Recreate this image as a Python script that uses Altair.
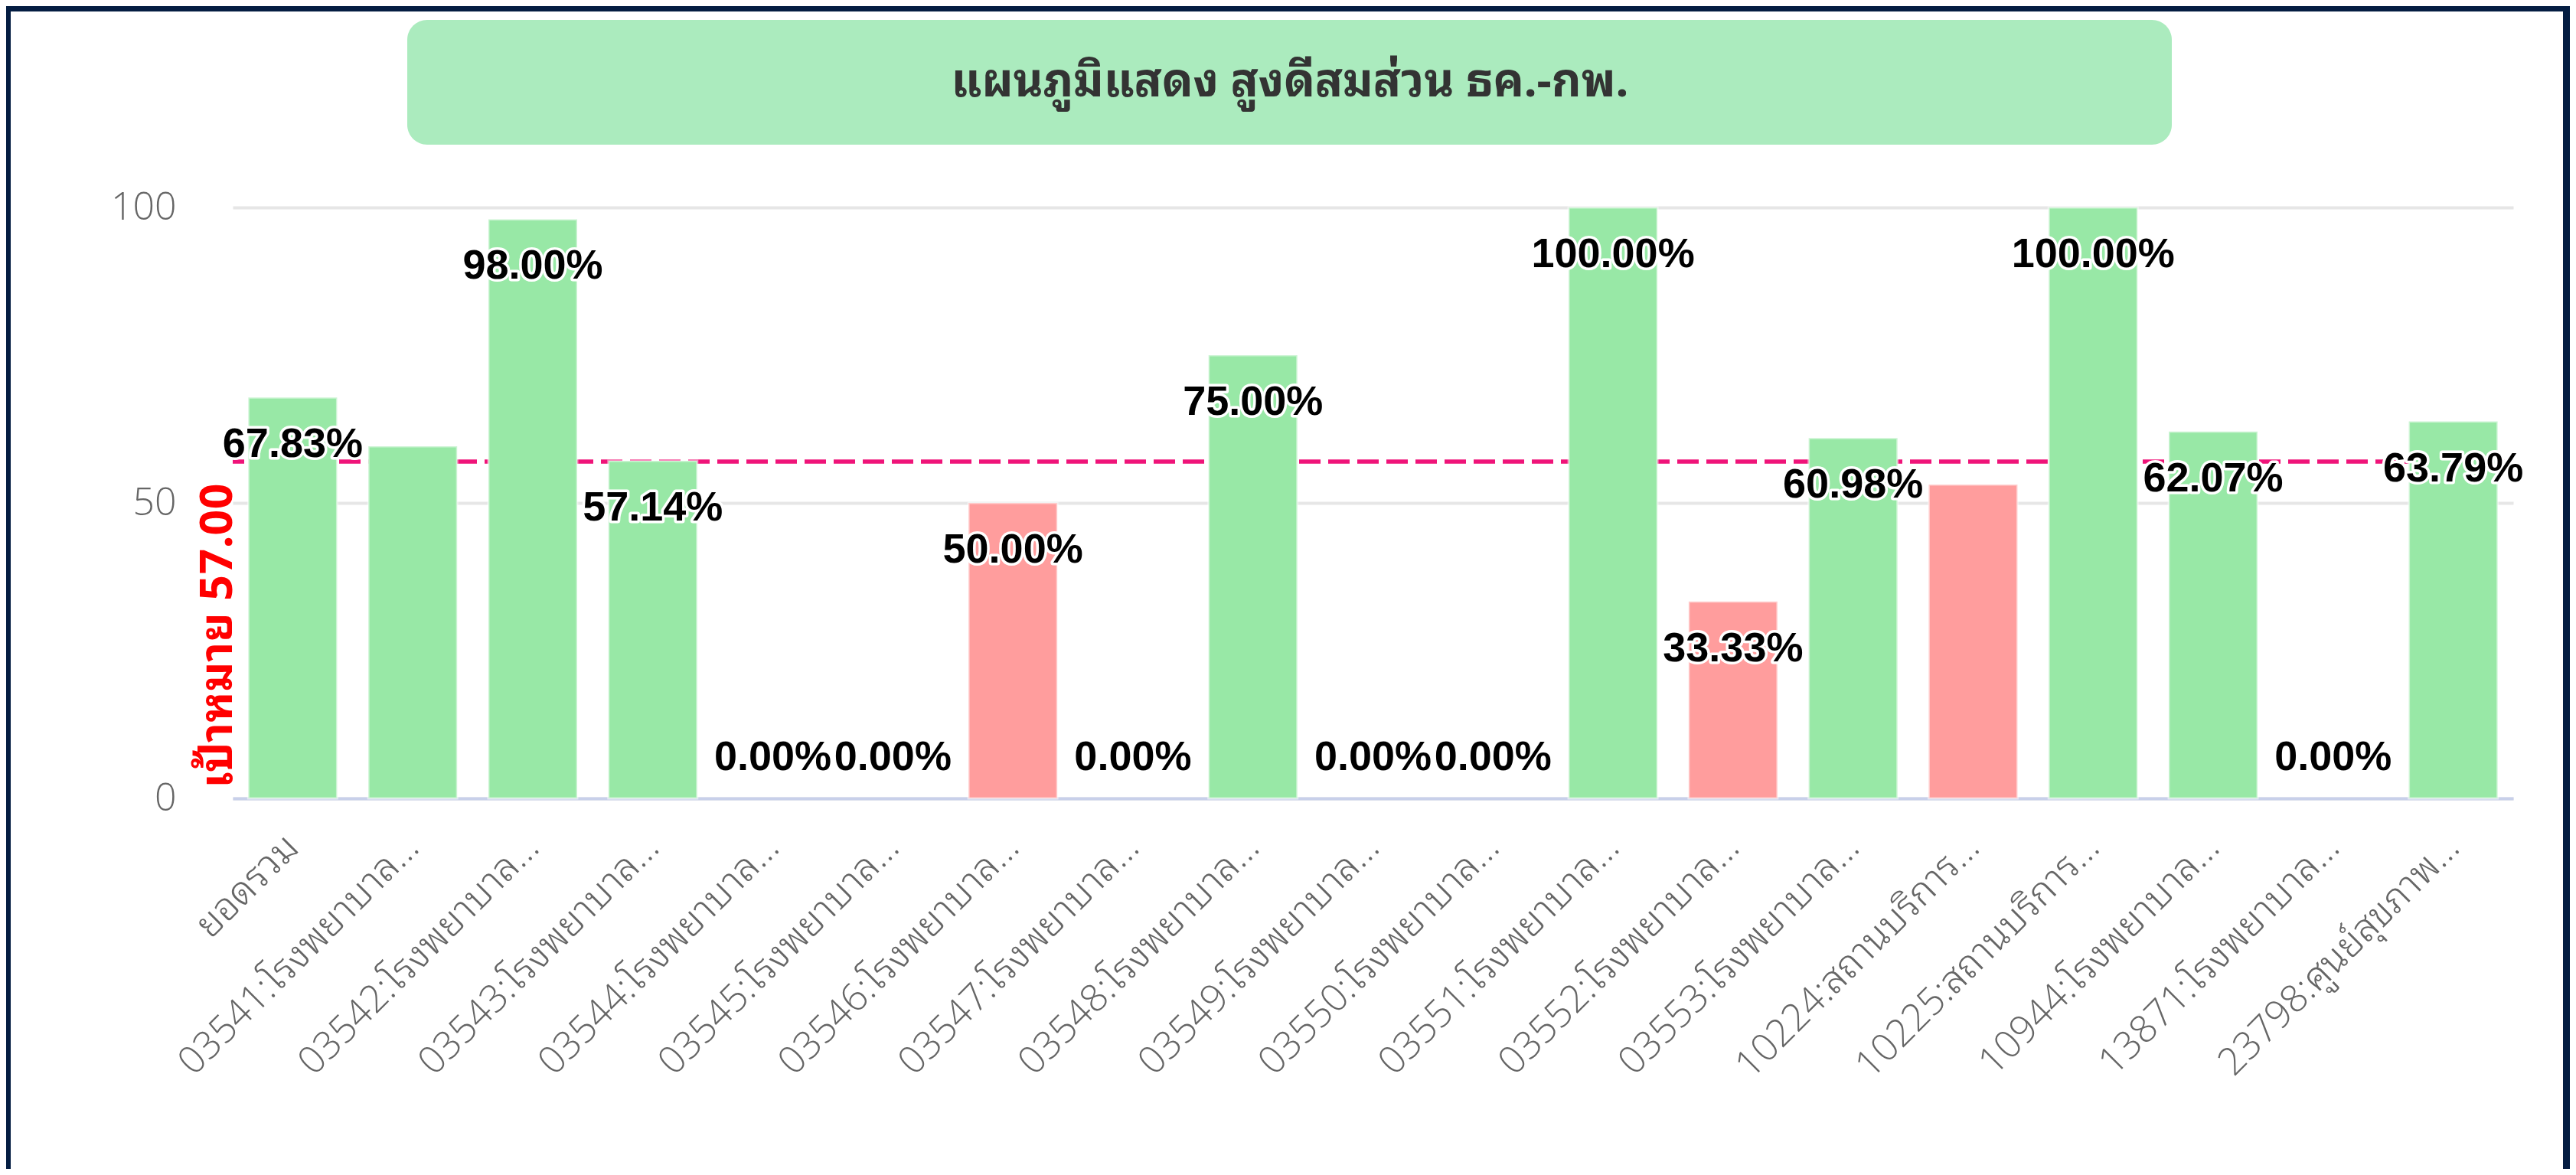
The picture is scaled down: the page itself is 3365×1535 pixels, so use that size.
import altair as alt
import pandas as pd

# ---------------- data ----------------
TITLE = "แผนภูมิแสดง สูงดีสมส่วน ธค.-กพ."
TARGET = 57.0
TARGET_LABEL = "เป้าหมาย 57.00"
CATEGORIES = [
    "ยอดรวม",
    "03541:โรงพยาบาล...",
    "03542:โรงพยาบาล...",
    "03543:โรงพยาบาล...",
    "03544:โรงพยาบาล...",
    "03545:โรงพยาบาล...",
    "03546:โรงพยาบาล...",
    "03547:โรงพยาบาล...",
    "03548:โรงพยาบาล...",
    "03549:โรงพยาบาล...",
    "03550:โรงพยาบาล...",
    "03551:โรงพยาบาล...",
    "03552:โรงพยาบาล...",
    "03553:โรงพยาบาล...",
    "10224:สถานบริการ...",
    "10225:สถานบริการ...",
    "10944:โรงพยาบาล...",
    "13871:โรงพยาบาล...",
    "23798:ศูนย์สุขภาพ...",
]
VALUES = [67.83, 59.6, 98.00, 57.14, 0.0, 0.0, 50.00, 0.0, 75.00, 0.0,
          0.0, 100.00, 33.33, 60.98, 53.1, 100.00, 62.07, 0.0, 63.79]
SHOW_LABEL = [1, 0, 1, 1, 1, 1, 1, 1, 1, 1, 1, 1, 1, 1, 0, 1, 1, 1, 1]
Y_TICKS = [0, 50, 100]

# ---------------- style ----------------
GREEN = "#98e8a6"
RED = "#ff9d9d"
PINK = "#ef1479"
NAVY = "#041d42"
BOX = "#abebbe"
THAI = "'Noto Sans Thai Looped', 'Noto Sans Thai', 'Noto Sans', sans-serif"
LIGHT = "'Open Sans', 'Noto Sans Thai Looped', 'Noto Sans Thai', sans-serif"
LABEL_FONT = "'Liberation Sans', Arial, sans-serif"

W, H = 2979, 772
PAD = {"left": 296, "top": 263, "right": 74, "bottom": 484}

df = pd.DataFrame({"cat": CATEGORIES, "value": VALUES, "show": SHOW_LABEL})
one = pd.DataFrame({"t": [TITLE]})
tgt = pd.DataFrame({"target": [TARGET]})

x_enc = alt.X(
    "cat:N",
    sort=CATEGORIES,
    scale=alt.Scale(paddingInner=0.26, paddingOuter=0.13),
    axis=alt.Axis(
        title=None, labelAngle=-45, labelAlign="right", labelBaseline="middle",
        labelPadding=56, ticks=False, tickSize=0, grid=False,
        domainColor="#c8d0ea", domainWidth=4, labelFontSize=50,
        labelColor="#666666", labelFont=LIGHT, labelFontWeight=300, labelLimit=0,
    ),
)
y_enc = alt.Y(
    "value:Q",
    scale=alt.Scale(domain=[0, 100], nice=False),
    axis=alt.Axis(
        values=Y_TICKS, grid=True, gridColor="#e6e6e6", gridWidth=4,
        domain=False, ticks=False, tickSize=0, labelPadding=74,
        labelFontSize=50, labelColor="#666666", labelFont=LIGHT, labelFontWeight=300,
        title=TARGET_LABEL, titleColor="#ff0000", titleFontSize=59,
        titleFontWeight="bold", titleFont=THAI, titleAngle=270,
        titleX=-2, titleY=758, titleAlign="left", titleBaseline="alphabetic",
    ),
)

base = alt.Chart(df)

frame_left = alt.Chart(one).mark_rect(color=NAVY).encode(
    x=alt.value(-296), x2=alt.value(-290), y=alt.value(-263), y2=alt.value(1256))
frame_top = alt.Chart(one).mark_rect(color=NAVY).encode(
    x=alt.value(-296), x2=alt.value(3053), y=alt.value(-263), y2=alt.value(-256))
frame_right = alt.Chart(one).mark_rect(color=NAVY).encode(
    x=alt.value(3044), x2=alt.value(3053), y=alt.value(-263), y2=alt.value(1256))

title_box = alt.Chart(one).mark_rect(color=BOX, cornerRadius=26).encode(
    x=alt.value(228), x2=alt.value(2533), y=alt.value(-245), y2=alt.value(-82))
title_text = alt.Chart(one).mark_text(
    font=THAI, fontSize=60, fontWeight="bold", color="#333333",
    align="center", baseline="middle",
).encode(x=alt.value(1381), y=alt.value(-163), text="t:N")

rule = alt.Chart(tgt).mark_rule(
    color=PINK, strokeWidth=5.5, strokeDash=[28, 10]
).encode(y=alt.Y("target:Q"))

bars = base.mark_bar(stroke="#ffffff", strokeWidth=3).encode(
    x=x_enc,
    y=y_enc,
    color=alt.condition(alt.datum.value >= TARGET, alt.value(GREEN), alt.value(RED)),
    strokeOpacity=alt.condition(alt.datum.value > 0, alt.value(0.5), alt.value(0)),
)

lab = base.transform_calculate(label="format(datum.value, '.2f') + '%'")
pos = lab.transform_filter("datum.show == 1 && datum.value > 0")
zer = lab.transform_filter("datum.show == 1 && datum.value == 0")

def labels(src, dy):
    enc = dict(x=alt.X("cat:N", sort=CATEGORIES), y=alt.Y("value:Q"), text="label:N")
    halo = src.mark_text(
        dy=dy, font=LABEL_FONT, fontSize=54, fontWeight="bold", color="white",
        stroke="white", strokeWidth=7, strokeJoin="round", baseline="middle",
    ).encode(**enc)
    txt = src.mark_text(
        dy=dy, font=LABEL_FONT, fontSize=54, fontWeight="bold", color="#000000",
        baseline="middle",
    ).encode(**enc)
    return halo + txt

chart = alt.layer(
    rule, bars, labels(pos, 62), labels(zer, -53),
    title_box, title_text, frame_left, frame_top, frame_right,
).properties(
    width=W, height=H,
    autosize=alt.AutoSizeParams(type="none"),
    padding=PAD,
).configure(background="white").configure_view(stroke=None)

chart.save("out.html", embed_options={"renderer": "svg", "actions": False})
